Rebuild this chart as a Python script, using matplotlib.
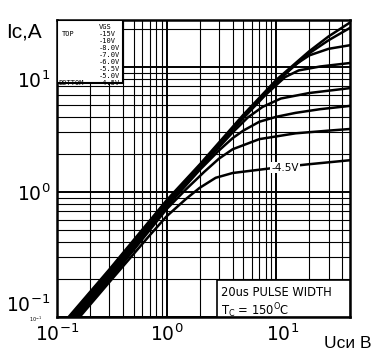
import matplotlib
matplotlib.use('Agg')
import matplotlib.pyplot as plt
from matplotlib.patches import Rectangle
from matplotlib.transforms import ScaledTranslation

plt.rcParams['mathtext.fontset'] = 'custom'
plt.rcParams['mathtext.rm'] = 'Liberation Sans'
plt.rcParams['mathtext.it'] = 'Liberation Sans'

# curves: Vds (V) -> Ic (A), one pair per Vgs
vgs_labels = ['-15V', '-10V', '-8.0V', '-7.0V', '-6.0V', '-5.5V', '-5.0V', '-4.5V']

v_15 = [0.12, 0.3, 1, 2, 5, 10, 20, 30, 48]
i_15 = [0.094, 0.24, 0.86, 1.66, 4.15, 7.9, 13.4, 17.6, 23.0]
v_10 = [0.12, 0.3, 1, 2, 5, 10, 20, 30, 48]
i_10 = [0.092, 0.235, 0.84, 1.63, 4.05, 7.7, 12.9, 16.4, 20.8]
v_8 = [0.12, 0.3, 1, 2, 5, 10, 15, 20, 30, 48]
i_8 = [0.089, 0.228, 0.82, 1.6, 4.0, 7.5, 10.5, 12.4, 14.0, 15.0]
v_7 = [0.12, 0.3, 1, 2, 5, 8, 12, 16, 25, 48]
i_7 = [0.086, 0.22, 0.80, 1.58, 3.9, 6.0, 8.3, 9.4, 10.1, 10.8]
v_6 = [0.12, 0.3, 1, 2, 4, 5.5, 7.5, 11, 20, 48]
i_6 = [0.083, 0.212, 0.78, 1.55, 3.0, 3.95, 4.8, 5.6, 6.2, 6.8]
v_55 = [0.12, 0.3, 1, 2, 3, 4, 5, 7, 10, 15, 25, 48]
i_55 = [0.08, 0.205, 0.76, 1.5, 2.15, 2.7, 3.1, 3.65, 4.0, 4.3, 4.6, 4.9]
v_5 = [0.12, 0.3, 1, 1.5, 2.2, 3, 4, 7, 15, 30, 48]
i_5 = [0.077, 0.197, 0.73, 1.05, 1.45, 1.85, 2.2, 2.65, 2.95, 3.1, 3.2]
v_45 = [0.12, 0.3, 0.7, 1, 1.5, 2, 2.8, 4, 9, 20, 48]
i_45 = [0.074, 0.19, 0.45, 0.64, 0.88, 1.08, 1.3, 1.42, 1.55, 1.67, 1.8]

curves = [(v_15, i_15), (v_10, i_10), (v_8, i_8), (v_7, i_7),
          (v_6, i_6), (v_55, i_55), (v_5, i_5), (v_45, i_45)]

decades = [0.1, 1, 10]
xtick_labels = [r'$\mathregular{10^{-1}}$', r'$\mathregular{10^{0}}$', r'$\mathregular{10^{1}}$']
ytick_labels = [r'$\mathregular{10^{-1}}$', r'$\mathregular{10^{0}}$', r'$\mathregular{10^{1}}$']

fig = plt.figure(figsize=(3.74, 3.52), dpi=100)
ax = fig.add_axes([57/374, 35/352, 293/374, 297/352])
ax.set_xscale('log')
ax.set_yscale('log')
ax.set_xlim(0.1, 47)
ax.set_ylim(0.1, 23.8)

# grid like the scanned paper
ax.grid(True, which='major', color='black', lw=1.4)
ax.grid(True, which='minor', color='black', lw=0.8)
ax.set_axisbelow(True)
for s in ax.spines.values():
    s.set_linewidth(1.8)

for v, i in curves:
    ax.plot(v, i, color='black', lw=1.8, solid_joinstyle='round', solid_capstyle='round', zorder=3)

ax.text(12, 1.57, '-4.5V', fontsize=7.5, ha='center', va='center', zorder=4,
        bbox=dict(facecolor='white', edgecolor='none', pad=0.6))

ax.set_xticks(decades)
ax.set_xticklabels(xtick_labels, fontsize=13.5)
ax.set_yticks(decades)
ax.set_yticklabels(ytick_labels, fontsize=13.5)
ax.tick_params(which='both', length=0, pad=5)
# the relabelled scan has its y numbers spread a bit inside the decades
yl = ax.get_yticklabels()
yl[0].set_transform(yl[0].get_transform() + ScaledTranslation(0, 0.14, fig.dpi_scale_trans))
yl[2].set_transform(yl[2].get_transform() + ScaledTranslation(0, -0.12, fig.dpi_scale_trans))
xl = ax.get_xticklabels()
xl[2].set_transform(xl[2].get_transform() + ScaledTranslation(0.06, 0, fig.dpi_scale_trans))

# Vgs legend box, top left
ax.add_patch(Rectangle((0, 0.788), 0.225, 0.212, transform=ax.transAxes,
                       facecolor='white', edgecolor='black', lw=1.5, zorder=5))
lx = 0.141
ax.text(lx, 0.985, 'VGS', transform=ax.transAxes, fontsize=5, family='DejaVu Sans Mono',
        va='top', ha='left', zorder=6)
for k, lab in enumerate(vgs_labels):
    ax.text(lx, 0.962 - k*0.0236, lab, transform=ax.transAxes, fontsize=5,
            family='DejaVu Sans Mono', va='top', ha='left', zorder=6)
ax.text(0.015, 0.962, 'TOP', transform=ax.transAxes, fontsize=5, family='DejaVu Sans Mono',
        va='top', ha='left', zorder=6)
ax.text(0.005, 0.962 - 7*0.0236, 'BOTTOM', transform=ax.transAxes, fontsize=5,
        family='DejaVu Sans Mono', va='top', ha='left', zorder=6)

# test condition box, bottom right
ax.add_patch(Rectangle((0.546, 0), 0.454, 0.125, transform=ax.transAxes,
                       facecolor='white', edgecolor='black', lw=1.2, zorder=5))
ax.text(0.56, 0.105, '20us PULSE WIDTH', transform=ax.transAxes, fontsize=8.3,
        va='top', ha='left', zorder=6)
ax.text(0.56, 0.052, r'T$_\mathregular{C}$ = 150$^\mathregular{O}$C', transform=ax.transAxes,
        fontsize=8.3, va='top', ha='left', zorder=6)

# tiny leftover label of the original sheet
ax.text(-0.075, -0.008, r'$\mathregular{10^{-1}}$', transform=ax.transAxes, fontsize=3.5,
        ha='center', va='center')

fig.text(6/374, 1 - 37/352, 'Ic,A', fontsize=15, family='Liberation Sans', ha='left', va='baseline')
fig.text(324/374, 1 - 348/352, 'Uси В', fontsize=12.5, family='Liberation Sans', ha='left', va='baseline')

fig.savefig('out.png', dpi=100)
